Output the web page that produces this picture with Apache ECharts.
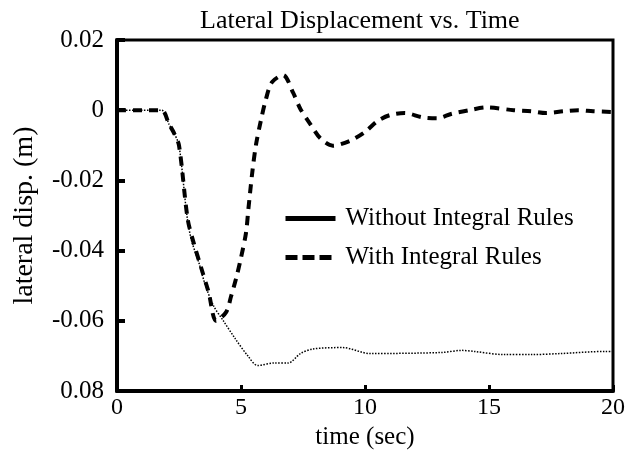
<!DOCTYPE html>
<html lang="en">
<head>
    <meta charset="UTF-8">
    <title>Lateral Displacement vs. Time</title>
    <style>
    html, body { margin: 0; padding: 0; background: #fff; }
    #main { width: 628px; height: 455px; }
    </style>
</head>
<body>
    <div id="main"></div>
    <script src="https://cdn.jsdelivr.net/npm/echarts@6/dist/echarts.min.js"></script>
    <script>
    // time (sec) and lateral displacement (m)
    var timeWithout = [0, 1, 1.8, 2.1, 2.3, 2.5, 2.82, 3.0, 3.3, 3.57, 3.9, 4.29, 4.76, 5.28, 5.67, 6.35, 6.9, 7.4, 7.9, 9.1, 10.2, 13.1, 13.9, 14.4, 15.6, 16.7, 17.9, 19.7, 20];
    var dispWithout = [0, 0, 0, -0.004, -0.0065, -0.010, -0.030, -0.037, -0.0434, -0.050, -0.0558, -0.060, -0.065, -0.070, -0.0727, -0.072, -0.072, -0.0693, -0.068, -0.0676, -0.0693, -0.069, -0.0684, -0.0687, -0.0696, -0.0696, -0.0693, -0.0687, -0.0687];

    var timeWith = [0, 1, 1.8, 2.1, 2.3, 2.5, 2.85, 3.1, 3.4, 3.7, 4.0, 4.4, 4.6, 4.8, 5.0, 5.2, 5.3, 5.45, 5.6, 5.8, 6.0, 6.25, 6.7, 7.1, 7.4, 7.8, 8.2, 8.7, 9.4, 10.0, 10.5, 11.0, 11.6, 12.3, 12.9, 13.5, 14.2, 14.9, 16.0, 16.7, 17.3, 18.0, 18.6, 19.2, 20];
    var dispWith = [0, 0, 0, -0.004, -0.0065, -0.010, -0.031, -0.038, -0.045, -0.052, -0.060, -0.0575, -0.053, -0.048, -0.042, -0.035, -0.028, -0.018, -0.010, -0.003, 0.003, 0.008, 0.010, 0.005, 0.0003, -0.004, -0.008, -0.0101, -0.0087, -0.0062, -0.0031, -0.0014, -0.0008, -0.002, -0.0023, -0.001, 0, 0.0008, 0, -0.0003, -0.0008, -0.0003, 0, -0.0003, -0.0005];

    var yTickValues = [-0.08, -0.06, -0.04, -0.02, 0, 0.02];
    var yTickLabels = ['0.08', '-0.06', '-0.04', '-0.02', '0', '0.02'];

    function pairs(xs, ys) {
        var out = [];
        for (var i = 0; i < xs.length; i++) out.push([xs[i], ys[i]]);
        return out;
    }

    var serif = '"Liberation Serif", "DejaVu Serif", serif';
    var myChart = echarts.init(document.getElementById('main'));
    var option = {
        animation: false,
        color: ['#000', '#000'],
        title: {
            text: 'Lateral Displacement vs. Time',
            left: 195,
            top: 3,
            textStyle: { fontFamily: serif, fontSize: 26, fontWeight: 'normal', color: '#000' }
        },
        legend: {
            orient: 'vertical',
            left: 283,
            top: 206,
            padding: 0,
            itemWidth: 50,
            itemHeight: 14,
            itemGap: 14,
            itemStyle: { opacity: 0 },
            textStyle: { fontFamily: serif, fontSize: 25, color: '#000', padding: [0, 0, 0, 5] },
            data: [
                { name: 'Without Integral Rules', lineStyle: { type: 'solid', width: 5, color: '#000' } },
                { name: 'With Integral Rules', lineStyle: { type: [12, 5], width: 5, color: '#000' } }
            ]
        },
        grid: {
            left: 117, right: 8, top: 40, bottom: 62,
            show: true, borderColor: '#000', borderWidth: 3
        },
        xAxis: {
            type: 'value',
            min: 0, max: 20, interval: 5,
            name: 'time (sec)',
            nameLocation: 'middle',
            nameGap: 30,
            nameTextStyle: { fontFamily: serif, fontSize: 25, color: '#000' },
            axisLine: { onZero: false, lineStyle: { color: '#000', width: 4 } },
            axisTick: { inside: true, length: 6, lineStyle: { width: 3, color: '#000' } },
            axisLabel: { fontFamily: serif, fontSize: 24, color: '#000', margin: 5 },
            splitLine: { show: false }
        },
        yAxis: {
            type: 'value',
            min: -0.08, max: 0.02, interval: 0.02,
            name: 'lateral disp. (m)',
            nameLocation: 'middle',
            nameGap: 78,
            nameTextStyle: { fontFamily: serif, fontSize: 28, color: '#000' },
            axisLine: { onZero: false, lineStyle: { color: '#000', width: 4 } },
            axisTick: { inside: true, length: 8, lineStyle: { width: 4, color: '#000' } },
            axisLabel: {
                fontFamily: serif, fontSize: 25, color: '#000', margin: 13,
                formatter: function (v) {
                    for (var i = 0; i < yTickValues.length; i++) {
                        if (Math.abs(yTickValues[i] - v) < 1e-9) return yTickLabels[i];
                    }
                    return '';
                }
            },
            splitLine: { show: false }
        },
        series: [
            {
                name: 'Without Integral Rules',
                type: 'line',
                smooth: 0.3,
                symbol: 'none',
                itemStyle: { color: '#000' },
                lineStyle: { color: '#000', width: 1.5, type: 'dotted' },
                data: pairs(timeWithout, dispWithout)
            },
            {
                name: 'With Integral Rules',
                type: 'line',
                smooth: 0.3,
                symbol: 'none',
                itemStyle: { color: '#000' },
                lineStyle: { color: '#000', width: 4, type: [9, 7] },
                data: pairs(timeWith, dispWith)
            }
        ]
    };
    myChart.setOption(option);
    </script>
</body>
</html>
